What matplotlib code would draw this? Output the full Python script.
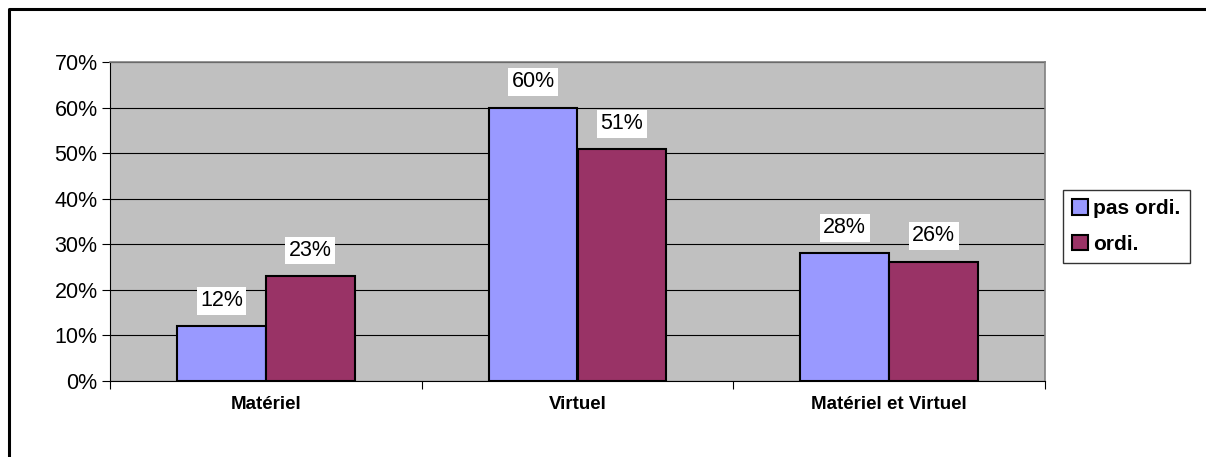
import matplotlib.pyplot as plt
import numpy as np
from matplotlib.lines import Line2D

categories = ['Matériel', 'Virtuel', 'Matériel et Virtuel']
pas_ordi = [0.12, 0.60, 0.28]
ordi = [0.23, 0.508, 0.262]
pas_ordi_labels = ['12%', '60%', '28%']
ordi_labels = ['23%', '51%', '26%']
series_names = ['pas ordi.', 'ordi.']

plt.rcParams['font.family'] = ['Liberation Sans', 'DejaVu Sans']

fig = plt.figure(figsize=(12.06, 4.57), dpi=100)
ax = fig.add_axes([110 / 1206, 1 - 381 / 457, 935 / 1206, 319 / 457])
ax.set_facecolor('#c0c0c0')

x = np.arange(len(categories))
w = 0.285
b1 = ax.bar(x - w / 2, pas_ordi, w, color='#9999ff', edgecolor='black', linewidth=1.5,
            label=series_names[0], zorder=3)
b2 = ax.bar(x + w / 2, ordi, w, color='#993366', edgecolor='black', linewidth=1.5,
            label=series_names[1], zorder=3)

for bars, labs in ((b1, pas_ordi_labels), (b2, ordi_labels)):
    for bar, lab in zip(bars, labs):
        ax.annotate(lab, (bar.get_x() + bar.get_width() / 2, bar.get_height()),
                    xytext=(0, 18.5), textcoords='offset points', ha='center', va='center',
                    fontsize=15.5, bbox=dict(facecolor='white', edgecolor='none', pad=2.5),
                    zorder=4)

ax.set_xlim(-0.5, 2.5)
ax.set_ylim(0, 0.70)
ax.set_yticks(np.arange(0, 0.71, 0.1))
ax.set_yticklabels([f'{int(round(v * 100))}%' for v in np.arange(0, 0.71, 0.1)], fontsize=15.5)
ax.yaxis.grid(True, color='black', linewidth=0.8, zorder=1)
ax.set_axisbelow(True)

ax.set_xticks([-0.5, 0.5, 1.5, 2.5])
ax.set_xticklabels([])
ax.set_xticks(x, minor=True)
ax.set_xticklabels(categories, minor=True, fontsize=13.5, fontweight='bold')
ax.tick_params(axis='x', which='minor', length=0, pad=11)
ax.tick_params(axis='x', which='major', length=6, width=0.8, direction='out')
ax.tick_params(axis='y', length=6, width=0.8, direction='out', pad=3)

for s in ('top', 'right'):
    ax.spines[s].set_color('#808080')
    ax.spines[s].set_linewidth(1.2)
for s in ('left', 'bottom'):
    ax.spines[s].set_color('black')
    ax.spines[s].set_linewidth(0.8)

leg = fig.legend(handles=[b1, b2], loc='upper left', bbox_to_anchor=(1063 / 1206, 1 - 190 / 457),
                 frameon=True, fancybox=False, edgecolor='black', handlelength=0.75,
                 handleheight=0.75, handletextpad=0.25, borderpad=0.45, borderaxespad=0,
                 labelspacing=0.8, prop={'weight': 'bold', 'size': 15})
leg.get_frame().set_linewidth(1.0)

# outer chart border (left and top only visible)
fig.add_artist(Line2D([8.5 / 1206, 8.5 / 1206, 1.0], [0.0, 1 - 8.5 / 457, 1 - 8.5 / 457],
                      color='black', linewidth=2.2, transform=fig.transFigure))

fig.savefig('out.png', dpi=100)
